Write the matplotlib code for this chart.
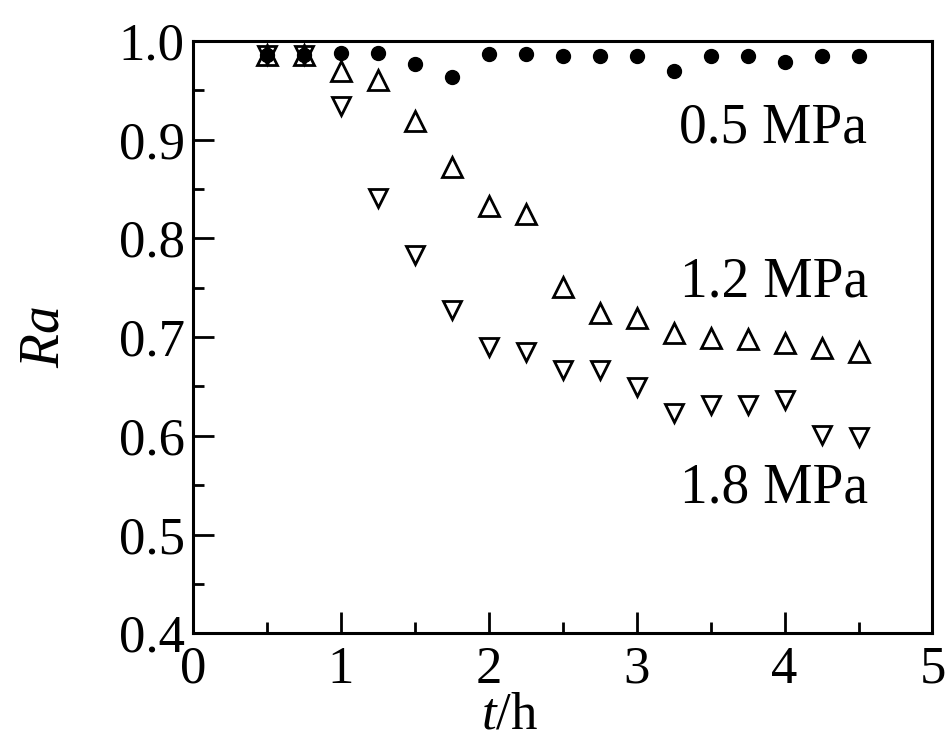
import matplotlib
matplotlib.use('Agg')
import matplotlib.pyplot as plt
from matplotlib.ticker import MultipleLocator

# time in hours
t = [0.5, 0.75, 1.0, 1.25, 1.5, 1.75, 2.0, 2.25, 2.5, 2.75, 3.0, 3.25, 3.5, 3.75, 4.0, 4.25, 4.5]

# Ra at each pressure
ra_05 = [0.986, 0.986, 0.988, 0.988, 0.977, 0.963, 0.987, 0.987, 0.985, 0.985, 0.985, 0.970, 0.985, 0.985, 0.979, 0.985, 0.985]
ra_12 = [0.986, 0.986, 0.970, 0.960, 0.919, 0.872, 0.833, 0.825, 0.751, 0.724, 0.719, 0.704, 0.699, 0.698, 0.694, 0.689, 0.685]
ra_18 = [0.986, 0.986, 0.934, 0.841, 0.783, 0.727, 0.690, 0.685, 0.667, 0.667, 0.649, 0.623, 0.631, 0.631, 0.636, 0.601, 0.599]

labels = ['0.5 MPa', '1.2 MPa', '1.8 MPa']

plt.rcParams['font.family'] = ['Liberation Serif', 'DejaVu Serif']
plt.rcParams['mathtext.fontset'] = 'custom'
plt.rcParams['mathtext.it'] = 'Liberation Serif:italic'
plt.rcParams['mathtext.rm'] = 'Liberation Serif'

fig = plt.figure(figsize=(9.48, 7.45), dpi=100)
# right edge pulled in a little so the "5" tick label stays inside the figure
ax = fig.add_axes([0.2036, 0.150, 0.780, 0.795])

ax.plot(t, ra_05, linestyle='none', marker='o', ms=10, color='black', clip_on=False, zorder=3)
ax.plot(t, ra_12, linestyle='none', marker='^', ms=14, mfc='none', mec='black', mew=2, clip_on=False)
ax.plot(t, ra_18, linestyle='none', marker='v', ms=13, mfc='none', mec='black', mew=2, clip_on=False)

ax.set_xlim(0, 5)
ax.set_ylim(0.4, 1.0)
ax.xaxis.set_major_locator(MultipleLocator(1))
ax.xaxis.set_minor_locator(MultipleLocator(0.5))
ax.yaxis.set_major_locator(MultipleLocator(0.1))
ax.yaxis.set_minor_locator(MultipleLocator(0.05))
ax.yaxis.set_major_formatter(matplotlib.ticker.FormatStrFormatter('%.1f'))

ax.tick_params(which='major', direction='in', length=15, width=2, labelsize=38)
ax.tick_params(which='minor', direction='in', length=8, width=2)
ax.tick_params(axis='y', pad=6)
ax.tick_params(axis='x', pad=9)
for s in ax.spines.values():
    s.set_linewidth(2.2)

ax.text(3.92, 0.911, labels[0], fontsize=40, ha='center', va='center')
ax.text(3.93, 0.755, labels[1], fontsize=40, ha='center', va='center')
ax.text(3.93, 0.547, labels[2], fontsize=40, ha='center', va='center')

fig.text(0.047, 0.548, '$Ra$', fontsize=40, rotation=90, ha='center', va='center')
fig.text(0.538, 0.040, '$t$/h', fontsize=38, ha='center', va='center')

fig.savefig('out.png', dpi=100)
